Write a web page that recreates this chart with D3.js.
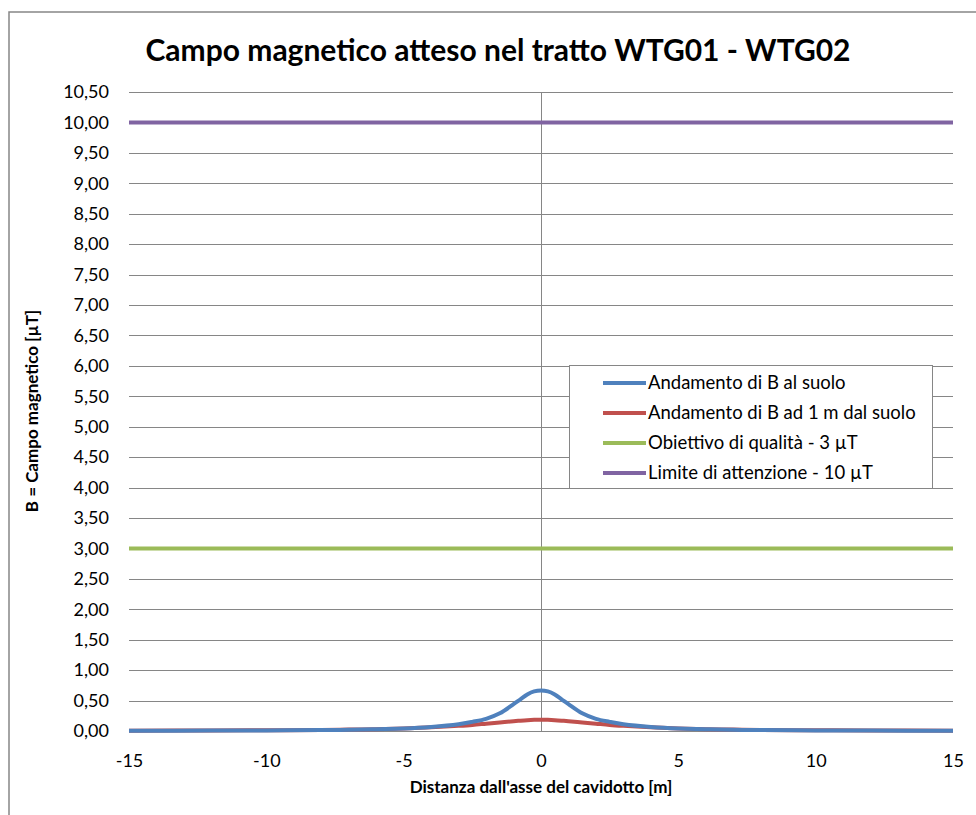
<!DOCTYPE html>
<html>
<head>
<meta charset="utf-8">
<script src="https://cdn.jsdelivr.net/npm/d3@7"></script>
<style>
  body { margin: 0; background: #fff; }
  text { font-family: Lato, "Open Sans", sans-serif; fill: #000; }
</style>
</head>
<body>
<div id="viz"></div>
<script>
// data
var distances = [-15, -12, -10, -8, -7, -6, -5, -4, -3, -2.5, -2, -1.5, -1, -0.75, -0.5, -0.25, 0,
                 0.25, 0.5, 0.75, 1, 1.5, 2, 2.5, 3, 4, 5, 6, 7, 8, 10, 12, 15];
var bGround = [0.005, 0.007, 0.01, 0.015, 0.02, 0.03, 0.04, 0.065, 0.11, 0.15, 0.20, 0.29, 0.44, 0.52, 0.60, 0.65, 0.665,
               0.65, 0.60, 0.52, 0.44, 0.29, 0.20, 0.15, 0.11, 0.065, 0.04, 0.03, 0.02, 0.015, 0.01, 0.007, 0.005];
var bOneMeter = [0.005, 0.008, 0.012, 0.018, 0.023, 0.03, 0.042, 0.06, 0.085, 0.10, 0.12, 0.14, 0.16, 0.17, 0.178, 0.183, 0.185,
                 0.183, 0.178, 0.17, 0.16, 0.14, 0.12, 0.10, 0.085, 0.06, 0.042, 0.03, 0.023, 0.018, 0.012, 0.008, 0.005];
var qualityLimit = [3, 3];
var attentionLimit = [10, 10];
var limitX = [-15, 15];

var xTicks = [-15, -10, -5, 0, 5, 10, 15];
var yTicks = [0, 0.5, 1, 1.5, 2, 2.5, 3, 3.5, 4, 4.5, 5, 5.5, 6, 6.5, 7, 7.5, 8, 8.5, 9, 9.5, 10, 10.5];

var seriesNames = ['Andamento di B al suolo', 'Andamento di B ad 1 m dal suolo',
                   'Obiettivo di qualità - 3 µT', 'Limite di attenzione - 10 µT'];
var seriesColors = ['#4F81BD', '#C0504D', '#9BBB59', '#8064A2'];

var W = 976, H = 815;
var margin = {top: 92, right: 23, bottom: 84, left: 129},
    width = W - margin.left - margin.right,
    height = H - margin.top - margin.bottom;

var root = d3.select('#viz').append('svg')
    .attr('width', W)
    .attr('height', H);

// outer chart frame (right and bottom edges fall outside the picture)
root.append('rect')
    .attr('x', 9)
    .attr('y', 12)
    .attr('width', W + 20)
    .attr('height', H + 20)
    .attr('fill', '#fff')
    .attr('stroke', '#868686')
    .attr('stroke-width', 1.5);

var svg = root.append('g')
    .attr('transform', 'translate(' + margin.left + ',' + margin.top + ')');

var x = d3.scaleLinear().domain([-15, 15]).range([0, width]);
var y = d3.scaleLinear().domain([0, 10.5]).range([height, 0]);

var fmt = d3.formatLocale({decimal: ',', thousands: '.', grouping: [3], currency: ['', '€']}).format('.2f');

// horizontal gridlines
svg.append('g')
    .selectAll('line')
    .data(yTicks)
    .enter().append('line')
    .attr('x1', 0)
    .attr('x2', width)
    .attr('y1', function(d) { return Math.round(y(d)) + 0.5; })
    .attr('y2', function(d) { return Math.round(y(d)) + 0.5; })
    .attr('stroke', '#868686')
    .attr('stroke-width', 1);

// vertical axis line at x = 0
svg.append('line')
    .attr('x1', Math.round(x(0)) + 0.5)
    .attr('x2', Math.round(x(0)) + 0.5)
    .attr('y1', 0)
    .attr('y2', height)
    .attr('stroke', '#868686')
    .attr('stroke-width', 1);

// y axis labels
var y_axis = svg.append('g')
    .call(d3.axisLeft(y).tickValues(yTicks).tickFormat(fmt).tickSize(0).tickPadding(20));
y_axis.select('.domain').remove();
y_axis.selectAll('text')
    .style('font-family', 'Lato, sans-serif')
    .style('font-size', '18px')
    .attr('fill', '#000');

// x axis labels
var x_axis = svg.append('g')
    .attr('transform', 'translate(0,' + height + ')')
    .call(d3.axisBottom(x).tickValues(xTicks).tickFormat(function(d) { return d; }).tickSize(0).tickPadding(23));
x_axis.select('.domain').remove();
x_axis.selectAll('text')
    .style('font-family', 'Lato, sans-serif')
    .style('font-size', '18px')
    .attr('fill', '#000');

// lines
var line = d3.line()
    .x(function(d) { return x(d[0]); })
    .y(function(d) { return y(d[1]); })
    .curve(d3.curveCatmullRom);

var series = [
  d3.zip(limitX, qualityLimit),
  d3.zip(limitX, attentionLimit),
  d3.zip(distances, bOneMeter),
  d3.zip(distances, bGround)
];
var seriesColor = [seriesColors[2], seriesColors[3], seriesColors[1], seriesColors[0]];

series.forEach(function(s, i) {
  svg.append('path')
    .datum(s)
    .attr('d', line)
    .attr('fill', 'none')
    .attr('stroke', seriesColor[i])
    .attr('stroke-width', 4)
    .attr('stroke-linecap', 'butt');
});

// title
root.append('text')
    .attr('x', 498)
    .attr('y', 61)
    .attr('text-anchor', 'middle')
    .style('font-size', '30px')
    .style('font-weight', 'bold')
    .text('Campo magnetico atteso nel tratto WTG01 - WTG02');

// axis titles
root.append('text')
    .attr('x', margin.left + x(0))
    .attr('y', 793)
    .attr('text-anchor', 'middle')
    .style('font-size', '17px')
    .style('font-weight', 'bold')
    .text("Distanza dall'asse del cavidotto [m]");

root.append('text')
    .attr('transform', 'translate(38,411) rotate(-90)')
    .attr('text-anchor', 'middle')
    .style('font-size', '17px')
    .style('font-weight', 'bold')
    .text('B = Campo magnetico [µT]');

// legend
var legend = root.append('g')
    .attr('transform', 'translate(569,365)');
legend.append('rect')
    .attr('x', 0.5)
    .attr('y', 0.5)
    .attr('width', 363)
    .attr('height', 123)
    .attr('fill', '#fff')
    .attr('stroke', '#868686')
    .attr('stroke-width', 1);
for (var i = 0; i < seriesNames.length; i++) {
  legend.append('line')
    .attr('x1', 34)
    .attr('x2', 77)
    .attr('y1', 18 + 30 * i)
    .attr('y2', 18 + 30 * i)
    .attr('stroke', seriesColors[i])
    .attr('stroke-width', 4);
  legend.append('text')
    .attr('x', 79)
    .attr('y', 18 + 30 * i)
    .attr('dy', '0.35em')
    .style('font-size', '18.5px')
    .text(seriesNames[i]);
}
</script>
</body>
</html>
